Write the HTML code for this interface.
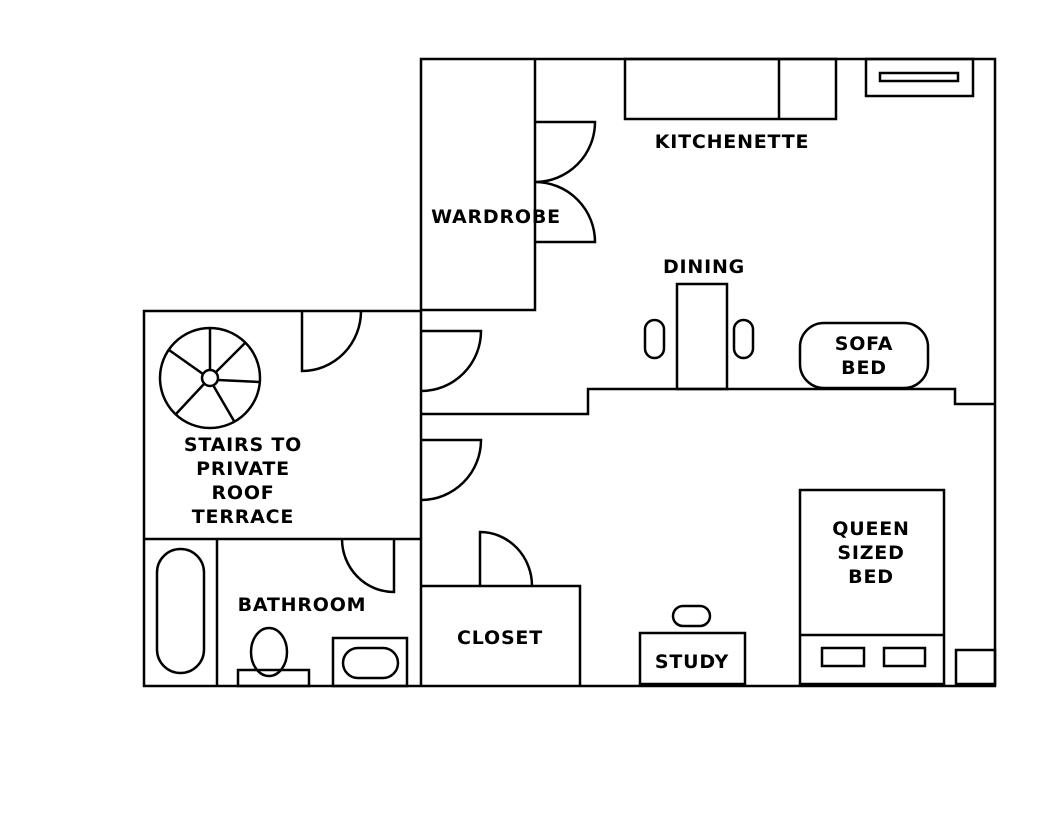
<!DOCTYPE html>
<html><head><meta charset="utf-8"><style>html,body{margin:0;padding:0;background:#fff}svg{display:block}</style></head>
<body>
<svg width="1056" height="816" viewBox="0 0 1056 816" xmlns="http://www.w3.org/2000/svg">
<g fill="none" stroke="#000" stroke-width="2.5">
<path d="M421,310 V59 H995 V686 H144 V311 H421 V686"/>
<path d="M421,414 H588 V389 H955 V404 H995"/>
<path d="M421,310 H535 V59"/>
<path d="M535,122 H595 A60,60 0 0 1 535,182 A60,60 0 0 1 595,242 H535"/>
<rect x="625" y="59" width="211" height="60"/>
<line x1="779" y1="59" x2="779" y2="119"/>
<rect x="866" y="59" width="107" height="37"/>
<rect x="880" y="73" width="78" height="8"/>
<rect x="677" y="284" width="50" height="105"/>
<rect x="645" y="320" width="19" height="38" rx="9.5"/>
<rect x="734" y="320" width="19" height="38" rx="9.5"/>
<rect x="800" y="323" width="128" height="65" rx="24"/>
<path d="M421,331 H481 A60,60 0 0 1 421,391"/>
<path d="M421,440 H481 A60,60 0 0 1 421,500"/>
<line x1="144" y1="539" x2="421" y2="539"/>
<path d="M302,311 V371 A59,60 0 0 0 361,311"/>
<circle cx="210" cy="378" r="50"/>
<circle cx="210" cy="378" r="8"/>
<path d="M210,370 V328 M216,372 L245,343 M218,380 L260,382 M213,385 L234,421 M204,384 L176,414 M203,374 L169,350"/>
<line x1="217" y1="539" x2="217" y2="686"/>
<rect x="157" y="549" width="47" height="124" rx="23.5"/>
<path d="M394,539 V592 A52,53 0 0 1 342,539"/>
<ellipse cx="269" cy="652" rx="18" ry="24"/>
<rect x="238" y="670" width="71" height="16"/>
<rect x="333" y="638" width="74" height="48"/>
<rect x="343" y="648" width="55" height="30" rx="15"/>
<path d="M421,586 H580 V686"/>
<path d="M480,586 V532 A52,54 0 0 1 532,586"/>
<rect x="673" y="606" width="37" height="20" rx="10"/>
<rect x="640" y="633" width="105" height="51"/>
<rect x="800" y="490" width="144" height="194"/>
<line x1="800" y1="635" x2="944" y2="635"/>
<rect x="822" y="648" width="42" height="18"/>
<rect x="884" y="648" width="41" height="18"/>
<rect x="956" y="650" width="39" height="34"/>
</g>
<g font-family="'DejaVu Sans','Liberation Sans',sans-serif" font-weight="bold" font-size="19" letter-spacing="0.8" text-anchor="middle" fill="#000">
<text x="732" y="148">KITCHENETTE</text>
<text x="496" y="223">WARDROBE</text>
<text x="704" y="273">DINING</text>
<text x="864" y="350">SOFA</text>
<text x="864" y="374">BED</text>
<text x="243" y="451">STAIRS TO</text>
<text x="243" y="475">PRIVATE</text>
<text x="243" y="499">ROOF</text>
<text x="243" y="523">TERRACE</text>
<text x="302" y="611">BATHROOM</text>
<text x="500" y="644">CLOSET</text>
<text x="692" y="668">STUDY</text>
<text x="871" y="535">QUEEN</text>
<text x="871" y="559">SIZED</text>
<text x="871" y="583">BED</text>
</g>
</svg>
</body></html>
